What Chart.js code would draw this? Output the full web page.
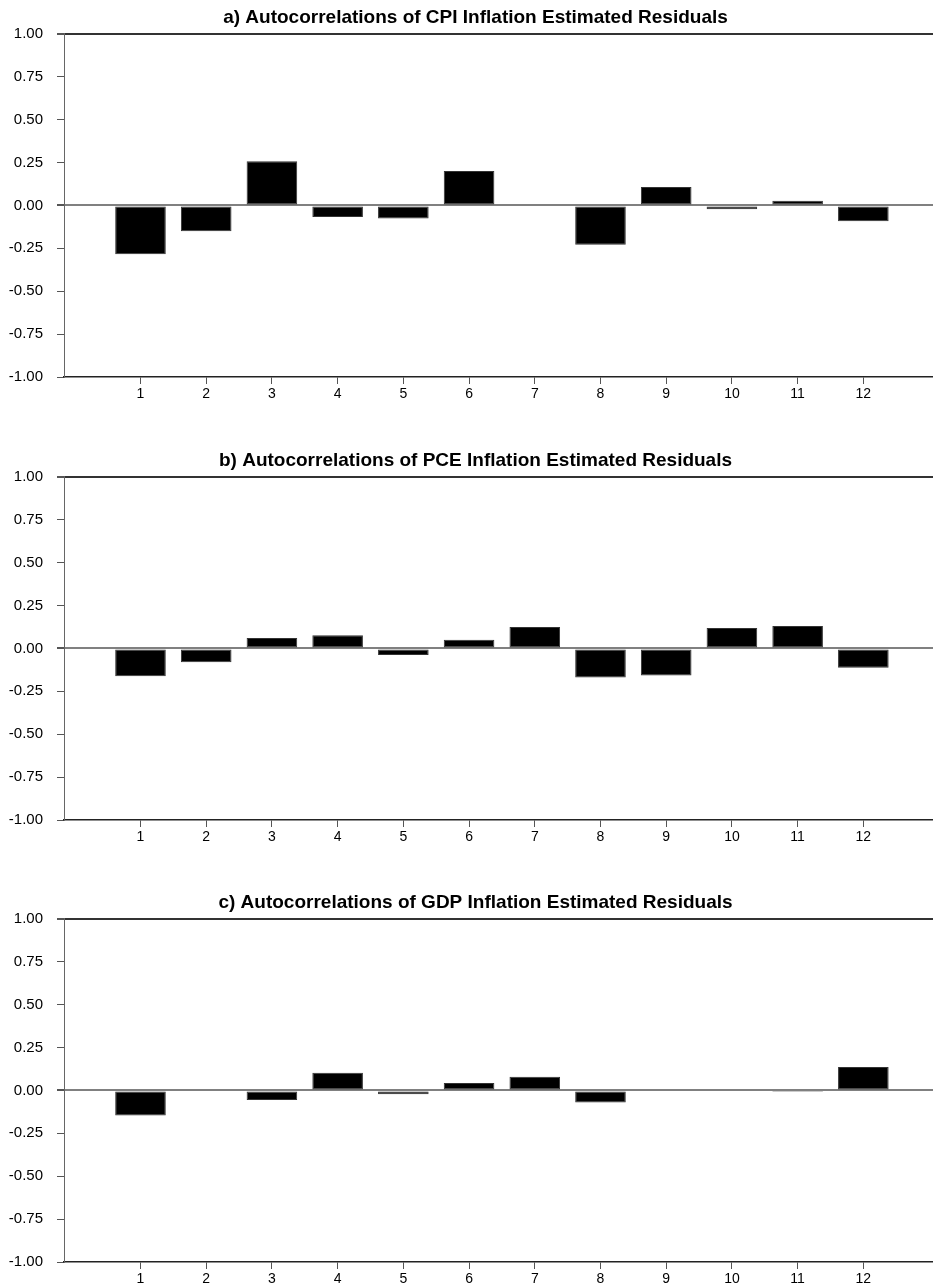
<!DOCTYPE html>
<html>
<head>
<meta charset="utf-8">
<script src="https://cdn.jsdelivr.net/npm/chart.js@4.4.0/dist/chart.umd.min.js"></script>
<style>
  html, body { margin: 0; padding: 0; background: #fff; overflow: hidden; }
  .panel { position: absolute; left: 0; }
</style>
</head>
<body>
<canvas class="panel" id="chartA" width="933" height="402" style="top:0px"></canvas>
<canvas class="panel" id="chartB" width="933" height="402" style="top:443px"></canvas>
<canvas class="panel" id="chartC" width="933" height="402" style="top:885px"></canvas>
<script>
document.addEventListener("DOMContentLoaded", function () {

const lags = [1, 2, 3, 4, 5, 6, 7, 8, 9, 10, 11, 12];
const yTicks = [-1, -0.75, -0.5, -0.25, 0, 0.25, 0.5, 0.75, 1];

const cpiAcf = [-0.285, -0.151, 0.258, -0.068, -0.077, 0.200, 0, -0.229, 0.107, -0.023, 0.027, -0.093];
const pceAcf = [-0.163, -0.080, 0.060, 0.076, -0.039, 0.051, 0.125, -0.169, -0.158, 0.119, 0.130, -0.113];
const gdpAcf = [-0.146, 0, -0.056, 0.103, -0.023, 0.043, 0.080, -0.070, 0, 0, -0.010, 0.136];

const titles = [
    'a) Autocorrelations of CPI Inflation Estimated Residuals',
    'b) Autocorrelations of PCE Inflation Estimated Residuals',
    'c) Autocorrelations of GDP Inflation Estimated Residuals'
];

const font = "'Liberation Sans', Arial, sans-serif";

function makeChart(id, title, values) {
    const points = lags.map((lag, i) => ({ x: lag, y: values[i] }));
    return new Chart(document.getElementById(id), {
        type: 'bar',
        data: {
            datasets: [{
                data: points,
                backgroundColor: '#000',
                borderColor: '#333',
                borderWidth: 1,
                borderSkipped: false,
                categoryPercentage: 1,
                barPercentage: 0.77
            }]
        },
        options: {
            responsive: false,
            animation: false,
            devicePixelRatio: 1,
            // negative right padding nudges the centred title to the right, as in the source
            layout: { padding: { left: 0, right: -18, top: 0, bottom: 0 } },
            plugins: {
                legend: { display: false },
                tooltip: { enabled: false },
                title: {
                    display: true,
                    text: title,
                    color: '#000',
                    font: { family: font, size: 19, weight: 'bold' },
                    padding: { top: 6, bottom: 5 }
                }
            },
            scales: {
                x: {
                    type: 'linear',
                    offset: false,
                    min: -0.164,
                    max: 13.06,
                    afterBuildTicks: axis => { axis.ticks = lags.map(v => ({ value: v })); },
                    afterFit: axis => { axis.height = 25; },
                    ticks: {
                        color: '#000',
                        font: { family: font, size: 14 },
                        padding: 2,
                        maxRotation: 0,
                        autoSkip: false,
                        callback: v => String(v)
                    },
                    grid: {
                        offset: false,
                        drawOnChartArea: false,
                        tickLength: 7,
                        tickColor: '#555',
                        tickWidth: 1
                    },
                    border: { display: true, color: '#222', width: 1.5 }
                },
                y: {
                    min: -1,
                    max: 1,
                    afterBuildTicks: axis => { axis.ticks = yTicks.map(v => ({ value: v })); },
                    afterFit: axis => { axis.width = 64; },
                    ticks: {
                        color: '#000',
                        font: { family: font, size: 15 },
                        padding: 14,
                        callback: v => v.toFixed(2)
                    },
                    grid: {
                        tickLength: 7,
                        tickColor: '#555',
                        color: ctx => {
                            if (ctx.tick && ctx.tick.value === 0) return '#808080';
                            if (ctx.tick && ctx.tick.value === 1) return '#333';
                            return 'rgba(0,0,0,0)';
                        },
                        lineWidth: ctx => (ctx.tick && (ctx.tick.value === 0 || ctx.tick.value === 1)) ? 2 : 1
                    },
                    border: { display: true, color: '#666', width: 1 }
                }
            }
        }
    });
}

makeChart('chartA', titles[0], cpiAcf);
makeChart('chartB', titles[1], pceAcf);
makeChart('chartC', titles[2], gdpAcf);

});
</script>
</body>
</html>
